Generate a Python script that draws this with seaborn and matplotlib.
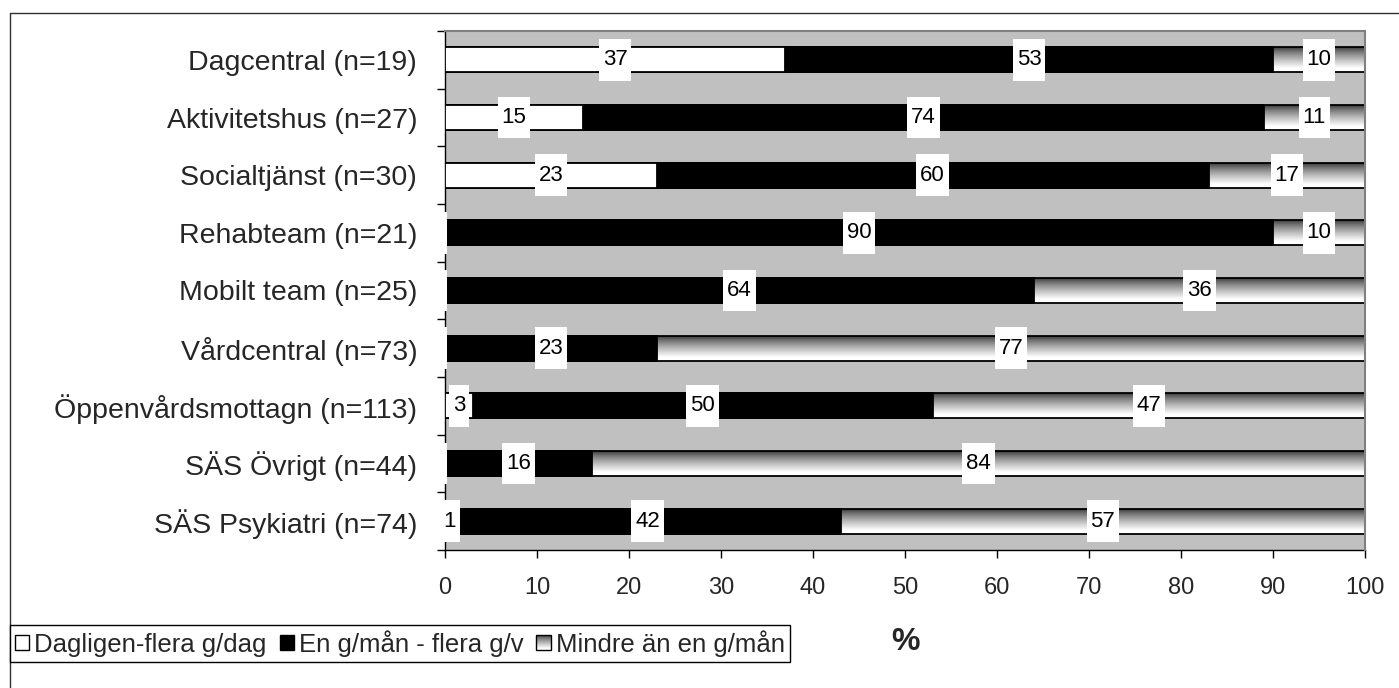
import numpy as np
import pandas as pd
import matplotlib
matplotlib.use('Agg')
import matplotlib.pyplot as plt
import seaborn as sns
from matplotlib.patches import Rectangle, Patch
from matplotlib.lines import Line2D
from matplotlib.path import Path
from matplotlib.legend_handler import HandlerBase

# ---------------- data ----------------
categories = ["Dagcentral (n=19)", "Aktivitetshus (n=27)", "Socialtjänst (n=30)",
              "Rehabteam (n=21)", "Mobilt team (n=25)", "Vårdcentral (n=73)",
              "Öppenvårdsmottagn (n=113)", "SÄS Övrigt (n=44)", "SÄS Psykiatri (n=74)"]
dagligen = [37, 15, 23, 0, 0, 0, 3, 0, 1]
manad_vecka = [53, 74, 60, 90, 64, 23, 50, 16, 42]
mindre = [10, 11, 17, 10, 36, 77, 47, 84, 57]
series_names = ["Dagligen-flera g/dag", "En g/mån - flera g/v", "Mindre än en g/mån"]
x_ticks = list(range(0, 101, 10))
x_label = "%"

sns.set_theme(style='white')
plt.rcParams['font.family'] = ['Liberation Sans', 'DejaVu Sans']

df = pd.DataFrame({'cat': categories, 'a': dagligen, 'b': manad_vecka, 'c': mindre})
df['cum_a'] = df['a']
df['cum_b'] = df['a'] + df['b']
df['cum_c'] = df['cum_b'] + df['c']

W, H = 1399, 688
fig = plt.figure(figsize=(W / 100, H / 100), dpi=100)
fig.patch.set_facecolor('white')
ax = fig.add_axes([445 / W, 1 - 550 / H, 920 / W, 519 / H])
ax.set_facecolor('#C0C0C0')


def grad_val(t):
    return 0.2 + 0.8 * min(1.0, t / 0.85) ** 0.75


def make_box(px_frac, py_frac):
    def box(x0, y0, width, height, mutation_size):
        px = px_frac * mutation_size
        py = py_frac * mutation_size
        return Path([(x0 - px, y0 - py), (x0 + width + px, y0 - py),
                     (x0 + width + px, y0 + height + py), (x0 - px, y0 + height + py),
                     (x0 - px, y0 - py)], closed=True)
    return box


bw = 0.43
# full-length bars (gradient segment shows at the right end)
sns.barplot(data=df, y='cat', x='cum_c', orient='h', color='white', saturation=1,
            width=bw, edgecolor='black', linewidth=1.3, ax=ax, zorder=2.2)
grad_patches = list(ax.patches)
for p in grad_patches:
    p.set_facecolor('none')

sns.barplot(data=df, y='cat', x='cum_b', orient='h', color='black', saturation=1,
            width=bw, edgecolor='black', linewidth=1.3, ax=ax, zorder=2.3)
sns.barplot(data=df, y='cat', x='cum_a', orient='h', color='white', saturation=1,
            width=bw, edgecolor='black', linewidth=1.3, ax=ax, zorder=2.4)

n = len(categories)
ax.set_xlim(0, 100)
ax.set_ylim(n - 0.5, -0.5)

# vertical gradient images for the gradient segments
tt = np.linspace(0, 1, 128)
garr = np.array([grad_val(t) for t in tt])[:, None]
for p in grad_patches:
    x0, w = p.get_x(), p.get_width()
    y0, h = p.get_y(), p.get_height()
    ax.imshow(garr, cmap='gray', vmin=0, vmax=1, aspect='auto', origin='upper',
              extent=(x0, x0 + w, y0 + h, y0), zorder=2.1, interpolation='bilinear')
ax.set_xlim(0, 100)
ax.set_ylim(n - 0.5, -0.5)

# value labels
for i in range(n):
    start = 0
    for k, v in enumerate((dagligen[i], manad_vecka[i], mindre[i])):
        if v > 0:
            ax.text(start + v / 2, i, f"{v}", ha='center', va='center', fontsize=16,
                    color='black', zorder=5, clip_on=False,
                    bbox=dict(boxstyle=make_box(0.17, 0.47), facecolor='white',
                              edgecolor='none'))
        elif k == 0:
            # zero-valued first segment: blank label box at the axis
            ax.text(start - 0.15, i, " ", ha='center', va='center', fontsize=16,
                    color='black', zorder=5, clip_on=False,
                    bbox=dict(boxstyle=make_box(0.03, 0.47), facecolor='white',
                              edgecolor='none'))
        start += v

# axes styling
ax.set_ylabel('')
ax.set_xticks(x_ticks)
ax.set_xticklabels([str(t) for t in x_ticks])
ax.tick_params(axis='x', which='major', direction='out', length=5.8, width=1,
               color='black', pad=14, labelsize=17, bottom=True)
ax.set_yticks(range(n))
ax.set_yticklabels(categories)
ax.tick_params(axis='y', which='major', length=0, pad=20, labelsize=20.5)
ax.set_yticks([k - 0.5 for k in range(n + 1)], minor=True)
ax.tick_params(axis='y', which='minor', direction='out', length=5.8, width=1,
               color='black', left=True)
ax.grid(False)
for s in ('left', 'bottom'):
    ax.spines[s].set_color('black')
    ax.spines[s].set_linewidth(1.0)
    ax.spines[s].set_zorder(1)
for s in ('top', 'right'):
    ax.spines[s].set_color('#808080')
    ax.spines[s].set_linewidth(1.5)

ax.set_xlabel(x_label, fontsize=23, fontweight='bold')
ax.xaxis.label.set_va('center')
ax.xaxis.set_label_coords(0.5, (550 - 642) / 519)

# outer chart frame (left and top edges visible)
fig.add_artist(Line2D([10 / W, 10 / W], [0, 1 - 13 / H], transform=fig.transFigure,
                      color='#303030', lw=1))
fig.add_artist(Line2D([10 / W, 1], [1 - 13 / H, 1 - 13 / H], transform=fig.transFigure,
                      color='#303030', lw=1))


# legend
class GradHandler(HandlerBase):
    def create_artists(self, legend, orig_handle, xdescent, ydescent, width, height,
                       fontsize, trans):
        arts = []
        k = 16
        for j in range(k):
            t = (j + 0.5) / k
            v = grad_val(t)
            arts.append(Rectangle((-xdescent, -ydescent + height * (1 - (j + 1) / k)),
                                  width, height / k, facecolor=(v, v, v),
                                  edgecolor='none', transform=trans))
        arts.append(Rectangle((-xdescent, -ydescent), width, height, facecolor='none',
                              edgecolor='black', lw=1, transform=trans))
        return arts


h_white = Patch(facecolor='white', edgecolor='black', lw=1)
h_black = Patch(facecolor='black', edgecolor='black', lw=1)
h_grad = Patch(facecolor='#999999', edgecolor='black', lw=1)
leg = fig.legend([h_white, h_black, h_grad], series_names, loc='upper left',
                 bbox_to_anchor=(10 / W, 1 - 625 / H), ncol=3, fontsize=18.5,
                 frameon=True, fancybox=False, edgecolor='black', facecolor='white',
                 framealpha=1, borderaxespad=0, borderpad=0.2, handlelength=0.55,
                 handleheight=0.55, handletextpad=0.2, columnspacing=0.5,
                 handler_map={h_grad: GradHandler()})
leg.get_frame().set_linewidth(1.0)

fig.savefig('out.png', dpi=100, facecolor='white')
